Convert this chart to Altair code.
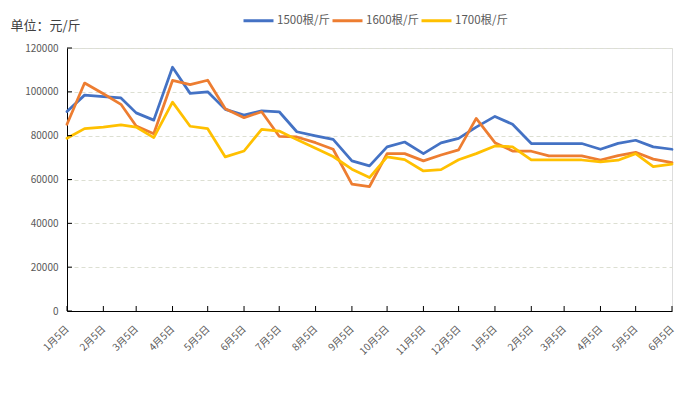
import altair as alt
import pandas as pd

# ---------------- data ----------------
dates = [
    "2021-01-05", "2021-01-20", "2021-02-05", "2021-02-20", "2021-03-05", "2021-03-20",
    "2021-04-05", "2021-04-20", "2021-05-05", "2021-05-20", "2021-06-05", "2021-06-20",
    "2021-07-05", "2021-07-20", "2021-08-05", "2021-08-20", "2021-09-05", "2021-09-20",
    "2021-10-05", "2021-10-20", "2021-11-05", "2021-11-20", "2021-12-05", "2021-12-20",
    "2022-01-05", "2022-01-20", "2022-02-05", "2022-02-20", "2022-03-05", "2022-03-20",
    "2022-04-05", "2022-04-20", "2022-05-05", "2022-05-20", "2022-06-05",
]
s1500 = [91000, 98500, 97800, 97200, 90400, 87100, 111200, 99300, 100000, 92000, 89400, 91300,
         90900, 81800, 79900, 78300, 68500, 66200, 74900, 77100, 71800, 76700, 78800, 83900,
         88800, 85200, 76400, 76400, 76400, 76400, 73800, 76500, 77900, 74900, 73800]
s1600 = [85200, 104000, 99100, 94300, 84400, 80900, 105200, 103300, 105300, 92300, 88200, 90900,
         79700, 79400, 76800, 73800, 57900, 56800, 71800, 71800, 68500, 71200, 73500, 87900,
         76800, 73000, 72900, 70800, 70800, 70800, 68900, 70900, 72400, 69300, 67700]
s1700 = [78800, 83200, 83900, 84900, 83900, 79100, 95300, 84300, 83200, 70300, 73000, 82900,
         82100, 78200, 74300, 70500, 64700, 60900, 70300, 69100, 63900, 64500, 69000, 71800,
         75300, 74900, 68900, 68900, 68900, 68900, 68000, 68800, 71800, 65900, 67000]
series_names = ["1500根/斤", "1600根/斤", "1700根/斤"]
series_colors = ["#4472C4", "#ED7D31", "#FFC000"]
tick_dates = [
    "2021-01-05", "2021-02-05", "2021-03-05", "2021-04-05", "2021-05-05", "2021-06-05",
    "2021-07-05", "2021-08-05", "2021-09-05", "2021-10-05", "2021-11-05", "2021-12-05",
    "2022-01-05", "2022-02-05", "2022-03-05", "2022-04-05", "2022-05-05", "2022-06-05",
]
y_ticks = [0, 20000, 40000, 60000, 80000, 100000, 120000]
unit_title = "单位：元/斤"

rows = []
for name, vals in zip(series_names, [s1500, s1600, s1700]):
    for d, v in zip(dates, vals):
        rows.append({"date": d, "series": name, "price": v})
df = pd.DataFrame(rows)


def dt(s):
    y, m, d = (int(p) for p in s.split("-"))
    return alt.DateTime(year=y, month=m, date=d, utc=True)


W, H = 605, 263
FONT = "Noto Sans CJK SC"
GRAY = "#595959"

x_scale = alt.Scale(type="utc", domain=[dt(dates[0]), dt(dates[-1])], nice=False)
y_scale = alt.Scale(domain=[0, 120000], nice=False, zero=True)

x_axis = alt.Axis(values=[dt(d) for d in tick_dates],
                  labelExpr="utcFormat(datum.value, '%-m') + '月' + utcFormat(datum.value, '%-d') + '日'",
                  labelAngle=315, labelAlign="right", labelBaseline="middle",
                  labelPadding=16, tickSize=0, domainColor="black", domainWidth=1,
                  grid=False, title=None, labelFont=FONT, labelFontSize=10,
                  labelColor=GRAY, labelOverlap=False, labelFlush=False)
y_axis = alt.Axis(values=y_ticks, format="d", grid=True, gridDash=[4, 3],
                  gridColor="#dcdfd2", gridWidth=1, tickSize=0, labelPadding=9,
                  domainColor="black", domainWidth=1, labelFont=FONT, labelFontSize=10,
                  labelColor=GRAY, title=unit_title, titleAngle=0, titleX=-57, titleY=-23,
                  titleAlign="left", titleBaseline="middle", titleFontWeight="normal",
                  titleFontSize=13, titleColor="#404040", titleFont=FONT)

lines = alt.Chart(df).mark_line(strokeWidth=2.75, strokeJoin="round", strokeCap="round").encode(
    x=alt.X("date:T", scale=x_scale, axis=x_axis),
    y=alt.Y("price:Q", scale=y_scale, axis=y_axis),
    color=alt.Color("series:N", scale=alt.Scale(domain=series_names, range=series_colors),
                    legend=alt.Legend(orient="none", legendX=175, legendY=-44,
                                      direction="horizontal", title=None, symbolType="stroke",
                                      symbolSize=900, symbolStrokeWidth=3, labelFont=FONT,
                                      labelFontSize=11.5, labelColor=GRAY, labelOffset=2,
                                      columnPadding=-12, padding=0)),
)

xticks = alt.Chart(pd.DataFrame({"date": tick_dates})).mark_rule(color="black", strokeWidth=1).encode(
    x=alt.X("date:T", scale=x_scale, axis=x_axis),
    y=alt.value(H),
    y2=alt.value(H - 5),
)
yticks = alt.Chart(pd.DataFrame({"price": y_ticks})).mark_rule(color="black", strokeWidth=1).encode(
    y=alt.Y("price:Q", scale=y_scale, axis=y_axis),
    x=alt.value(0),
    x2=alt.value(5),
)

chart = alt.layer(lines, xticks, yticks).properties(
    width=W, height=H,
    autosize=alt.AutoSizeParams(type="none"),
    padding={"left": 59, "top": 40, "right": 9, "bottom": 75},
).configure_view(stroke=None).configure(background="white")

chart.save("out.html", embed_options={"renderer": "svg", "actions": False})
